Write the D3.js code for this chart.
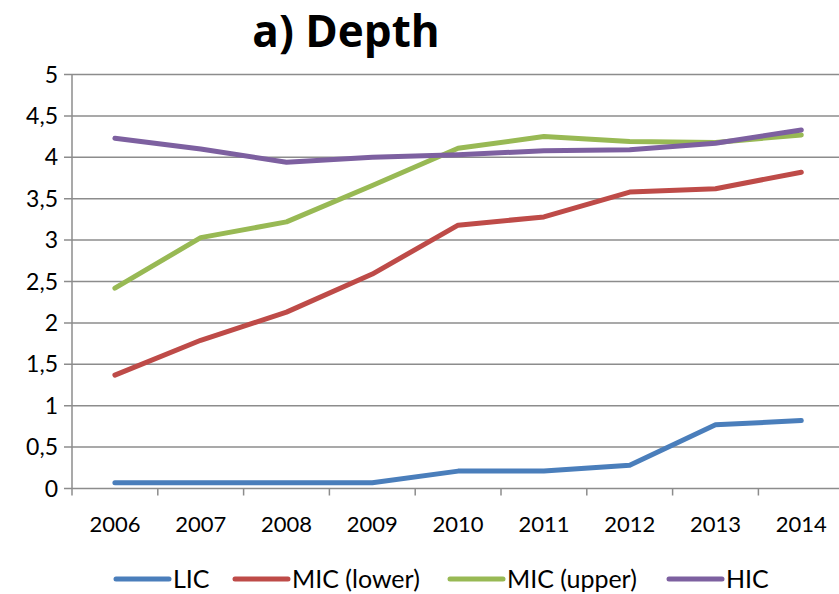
<!DOCTYPE html>
<html>
<head>
<meta charset="utf-8">
<script src="https://cdn.jsdelivr.net/npm/d3@7"></script>
<style>
  body { margin: 0; background: #fff; }
  text { font-family: Lato, "Open Sans", sans-serif; fill: #000; }
</style>
</head>
<body>
<script>
var years = ["2006", "2007", "2008", "2009", "2010", "2011", "2012", "2013", "2014"];
var lic = [0.07, 0.07, 0.07, 0.07, 0.21, 0.21, 0.28, 0.77, 0.82];
var micLower = [1.37, 1.79, 2.13, 2.59, 3.18, 3.28, 3.58, 3.62, 3.82];
var micUpper = [2.42, 3.03, 3.22, 3.66, 4.11, 4.25, 4.19, 4.18, 4.27];
var hic = [4.23, 4.10, 3.94, 4.00, 4.03, 4.08, 4.09, 4.17, 4.33];
var seriesNames = ["LIC", "MIC (lower)", "MIC (upper)", "HIC"];
var yTicks = [0, 0.5, 1, 1.5, 2, 2.5, 3, 3.5, 4, 4.5, 5];

var w = 839;
var h = 594;
var colors = ["#4a7ebb", "#be4b48", "#98b954", "#7d60a0"];
var allSeries = [lic, micLower, micUpper, hic];

var svg = d3.select("body").append("svg")
    .attr("width", w)
    .attr("height", h);

var x = d3.scaleBand().domain(years).range([72, 72 + 9 * 85.8]);
var y = d3.scaleLinear().domain([0, 5]).range([488.5, 74.5]);

// title
svg.append("text")
    .attr("x", 346)
    .attr("y", 47)
    .attr("text-anchor", "middle")
    .style("font-family", "'Open Sans', sans-serif")
    .style("font-size", "44px")
    .style("font-weight", "bold")
    .text("a) Depth");

// gridlines
svg.selectAll(".grid")
    .data(yTicks)
    .enter()
    .append("line")
    .attr("x1", 64)
    .attr("x2", w)
    .attr("y1", (d) => { return y(d) })
    .attr("y2", (d) => { return y(d) })
    .style("stroke", "#8c8c8c")
    .style("stroke-width", 1.5);

// y axis line
svg.append("line")
    .attr("x1", 72).attr("x2", 72)
    .attr("y1", y(5)).attr("y2", y(0) + 7)
    .style("stroke", "#8c8c8c")
    .style("stroke-width", 1.5);

// x ticks
var tickPos = years.map((d) => { return x(d) });
svg.selectAll(".xtick")
    .data(tickPos.slice(1))
    .enter()
    .append("line")
    .attr("x1", (d) => { return d })
    .attr("x2", (d) => { return d })
    .attr("y1", y(0))
    .attr("y2", y(0) + 7)
    .style("stroke", "#8c8c8c")
    .style("stroke-width", 1.5);

var fmt = (d) => { return String(d).replace(".", ",") };

svg.selectAll(".ylab")
    .data(yTicks)
    .enter()
    .append("text")
    .attr("x", 58)
    .attr("y", (d) => { return y(d) + 8 })
    .attr("text-anchor", "end")
    .style("font-size", "23px")
    .text(fmt);

svg.selectAll(".xlab")
    .data(years)
    .enter()
    .append("text")
    .attr("x", (d) => { return x(d) + x.bandwidth() / 2 })
    .attr("y", 532)
    .attr("text-anchor", "middle")
    .style("font-size", "22px")
    .text((d) => { return d });

var line = d3.line()
    .x((d, i) => { return x(years[i]) + x.bandwidth() / 2 })
    .y((d) => { return y(d) });

allSeries.forEach((s, i) => {
    svg.append("path")
        .attr("d", line(s))
        .style("fill", "none")
        .style("stroke", colors[i])
        .style("stroke-width", 5)
        .style("stroke-linecap", "round")
        .style("stroke-linejoin", "round");
});

// legend
var legendX = [116, 235, 450, 669];
var legend = svg.selectAll(".legend")
    .data(seriesNames)
    .enter()
    .append("g")
    .attr("transform", (d, i) => { return "translate(" + legendX[i] + ",579)" });

legend.append("line")
    .attr("x1", 0).attr("x2", 53)
    .attr("y1", 0).attr("y2", 0)
    .style("stroke", (d, i) => { return colors[i] })
    .style("stroke-width", 5)
    .style("stroke-linecap", "round");

legend.append("text")
    .attr("x", 57)
    .attr("y", 9)
    .style("font-size", "25px")
    .text((d) => { return d });
</script>
</body>
</html>
